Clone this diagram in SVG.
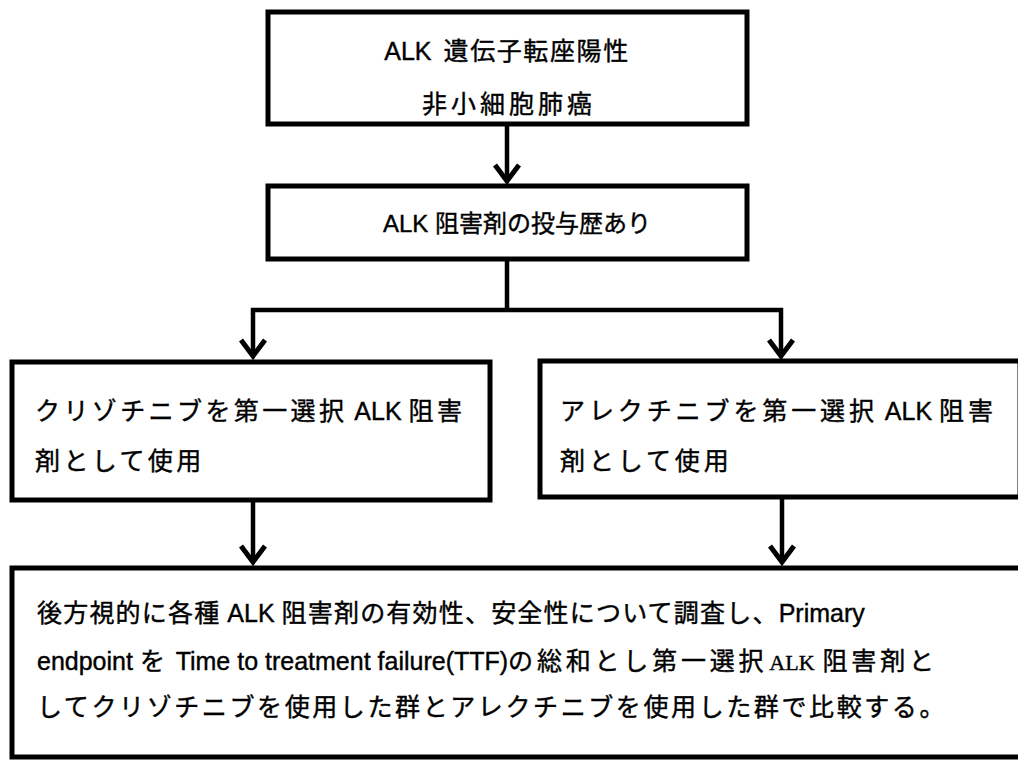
<svg xmlns="http://www.w3.org/2000/svg" width="1018" height="760" viewBox="0 0 1018 760">
<style>
.box{fill:#fff;stroke:#000;stroke-width:5}
.t{font-family:"Liberation Sans","Noto Sans CJK JP",sans-serif;font-size:25px;fill:#000;stroke:#000;stroke-width:0.4}
.s{font-size:24px}
.m{font-family:"Liberation Serif","Noto Sans CJK JP",serif;font-size:22px}
.conn{fill:none;stroke:#000;stroke-width:4.5}
</style>
<defs>
<marker id="ah" markerUnits="userSpaceOnUse" markerWidth="40" markerHeight="40" viewBox="-20 -20 40 40" refX="0" refY="0" orient="auto-start-reverse">
<path d="M-16,-12 L0,0 L-16,12" fill="none" stroke="#000" stroke-width="5"/>
</marker>
</defs>
<rect width="1018" height="760" fill="#fff"/>
<g id="n1">
<rect class="box" x="268" y="12" width="479" height="112"/>
<text class="t" x="507" y="60" text-anchor="middle">ALK<tspan dx="12" letter-spacing="1.6">遺伝子転座陽性</tspan></text>
<text class="t" x="509" y="113" text-anchor="middle" letter-spacing="4">非小細胞肺癌</text>
</g>
<g id="n2">
<rect class="box" x="268" y="186" width="479" height="73"/>
<text class="t s" x="517" y="232" text-anchor="middle">ALK 阻害剤の投与歴あり</text>
</g>
<g id="n3">
<rect class="box" x="12" y="362" width="478" height="138"/>
<text class="t" x="35" y="420"><tspan letter-spacing="3.4">クリゾチニブを第一選択</tspan> ALK <tspan letter-spacing="3.4">阻害</tspan></text>
<text class="t" x="35" y="470" letter-spacing="3.4">剤として使用</text>
</g>
<g id="n4">
<rect class="box" x="540" y="361" width="480" height="136"/>
<text class="t" x="560" y="420"><tspan letter-spacing="3.9">アレクチニブを第一選択</tspan> ALK <tspan letter-spacing="3.9">阻害</tspan></text>
<text class="t" x="560" y="470" letter-spacing="3.9">剤として使用</text>
</g>
<g id="n5">
<rect class="box" x="12" y="568" width="1030" height="189"/>
<text class="t" x="37" y="622"><tspan letter-spacing="1.2">後方視的に各種</tspan> ALK <tspan letter-spacing="1.2">阻害剤の有効性、安全性について調査し、</tspan>Primary</text>
<text class="t" x="37" y="670">endpoint <tspan letter-spacing="3.8">を</tspan> Time to treatment failure(TTF)<tspan letter-spacing="3.8">の総和とし第一選択</tspan><tspan class="m" dx="2">ALK</tspan><tspan dx="8" letter-spacing="3.8">阻害剤と</tspan></text>
<text class="t" x="37" y="716" letter-spacing="2.6">してクリゾチニブを使用した群とアレクチニブを使用した群で比較する。</text>
</g>
<g id="connectors">
<path class="conn" d="M507,124 V181" marker-end="url(#ah)"/>
<path class="conn" d="M507,259 V310"/>
<path class="conn" d="M253,356 V310 H781 V356" marker-start="url(#ah)" marker-end="url(#ah)"/>
<path class="conn" d="M253,500 V562" marker-end="url(#ah)"/>
<path class="conn" d="M782,497 V562" marker-end="url(#ah)"/>
</g>
</svg>
